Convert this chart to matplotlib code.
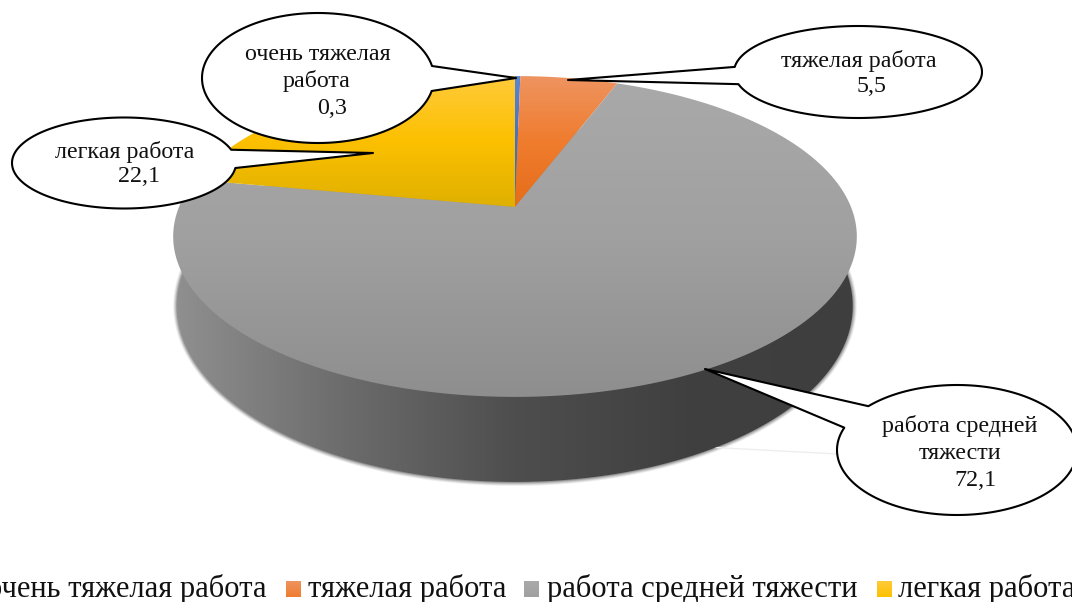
import numpy as np
import matplotlib
matplotlib.use('Agg')
import matplotlib.pyplot as plt
from matplotlib.patches import Polygon, Rectangle
from matplotlib.colors import LinearSegmentedColormap

plt.rcParams['font.family'] = ['Liberation Serif', 'DejaVu Serif']

# Data
categories = ['очень тяжелая работа', 'тяжелая работа', 'работа средней тяжести', 'легкая работа']
values = [0.3, 5.5, 72.1, 22.1]
label_lines = [['очень тяжелая', 'работа'], ['тяжелая работа'], ['работа средней', 'тяжести'], ['легкая работа']]

# Top to bottom colour stops of each slice
slice_stops = [
    ['#5b86d0', '#4472c4', '#3f69b5'],
    ['#ee9460', '#f07c2e', '#e56d1a'],
    ['#a9a9a9', '#a0a0a0', '#8e8e8e'],
    ['#ffcb3a', '#fcc000', '#dfb000'],
]
legend_stops = [s[:2] for s in slice_stops]
wall_stops = ['#909090', '#6c6c6c', '#4e4e4e', '#404040', '#3e3e3e']

# Callouts: centre, radii, tip, two base points, text centre x per line, first line y
callouts = [
    dict(c=(318, 78), r=(116, 65), tip=(516, 78), base=[(432, 66), (432, 91)], xs=[318, 317, 332], y0=54, dy=27.5),
    dict(c=(858, 72), r=(124, 46), tip=(568, 80), base=[(737, 67), (740, 84)], xs=[859, 872], y0=61, dy=25),
    dict(c=(957, 450), r=(120, 65), tip=(705, 369), base=[(870, 407), (846, 428)], xs=[960, 960, 975], y0=426, dy=27.5),
    dict(c=(124, 163), r=(112, 45.5), tip=(373, 153), base=[(229, 150), (235, 168)], xs=[125, 139], y0=152, dy=24),
]

# Perspective of the pie top
CX, APEX_Y = 515, 207
A, B, K = 336, 155, 0.1838


def rim(theta, sx=1.0, sy=1.0, dy=0.0):
    # theta runs clockwise from the top of the pie
    u, v = np.sin(theta), -np.cos(theta)
    w = 1 - K * v
    return CX + sx * A * u / w, APEX_Y + sy * B * v / w + dy


def gradient_patch(ax, patch, stops, extent, horizontal=False):
    ax.add_patch(patch)
    cmap = LinearSegmentedColormap.from_list('g', stops)
    ramp = np.linspace(0, 1, 256)
    ramp = ramp.reshape(1, -1) if horizontal else ramp.reshape(-1, 1)
    im = ax.imshow(ramp, cmap=cmap, extent=extent, aspect='auto', origin='upper' if not horizontal else 'lower', zorder=patch.get_zorder())
    im.set_clip_path(patch)


fig = plt.figure(figsize=(10.72, 6.02), dpi=100)
ax = fig.add_axes([0, 0, 1, 1])
ax.axis('off')

t = np.linspace(0, 2 * np.pi, 400)

# Soft shadow round the wall
wx, wy = rim(t, 0.988, 1.097, 66.6)
for grow, alpha in [(4, 0.08), (3, 0.12), (2, 0.16), (1, 0.22)]:
    ax.add_patch(Polygon(np.c_[CX + (wx - CX) * (1 + grow / 338), 306 + (wy - 306) * (1 + grow / 176)],
                         closed=True, fc='#202020', ec='none', alpha=alpha, zorder=1))

# Faint line behind the lower callout
ax.plot([705, 838], [447, 454], color='#eeeeee', lw=1, zorder=1)

# Wall of the pie
wall = Polygon(np.c_[wx, wy], closed=True, fc='none', ec='none', zorder=2)
gradient_patch(ax, wall, wall_stops, (172, 857, 240, 490), horizontal=True)

# Top slices
edges = np.cumsum([0] + values) / sum(values) * 2 * np.pi
for i in range(len(values)):
    th = np.linspace(edges[i], edges[i + 1], 200)
    x, y = rim(th)
    pts = np.r_[[[CX, APEX_Y]], np.c_[x, y]]
    top = Polygon(pts, closed=True, fc='none', ec='none', zorder=3)
    gradient_patch(ax, top, slice_stops[i], (pts[:, 0].min(), pts[:, 0].max(), pts[:, 1].max(), pts[:, 1].min()))

# Callouts
for i, co in enumerate(callouts):
    cx, cy = co['c']
    rx, ry = co['r']
    ang = lambda p: np.arctan2((p[1] - cy) / ry, (p[0] - cx) / rx)
    a_tip = ang(co['tip'])
    d = [((ang(b) - a_tip + np.pi) % (2 * np.pi)) - np.pi for b in co['base']]
    arc = np.linspace(a_tip + max(d), a_tip + min(d) + 2 * np.pi, 200)
    pts = np.c_[cx + rx * np.cos(arc), cy + ry * np.sin(arc)]
    pts = np.r_[pts, [co['tip']]]
    ax.add_patch(Polygon(pts, closed=True, fc='white', ec='black', lw=1.5, joinstyle='round', zorder=5))
    lines = label_lines[i] + [f'{values[i]}'.replace('.', ',')]
    for j, line in enumerate(lines):
        ax.text(co['xs'][j], co['y0'] + j * co['dy'], line, ha='center', va='center', fontsize=17.3, color='#111111', zorder=6)

# Legend
legend_marks = [-19, 286, 524, 877]
legend_text = [-13, 308, 547, 898]
for i, name in enumerate(categories):
    mark = Rectangle((legend_marks[i], 581), 15, 16, fc='none', ec='none', zorder=3)
    gradient_patch(ax, mark, legend_stops[i], (legend_marks[i], legend_marks[i] + 15, 597, 581))
    ax.text(legend_text[i], 597, name, ha='left', va='baseline', fontsize=22, color='#111111')

ax.set_xlim(0, 1072)
ax.set_ylim(602, 0)
fig.savefig('out.png', dpi=100)
